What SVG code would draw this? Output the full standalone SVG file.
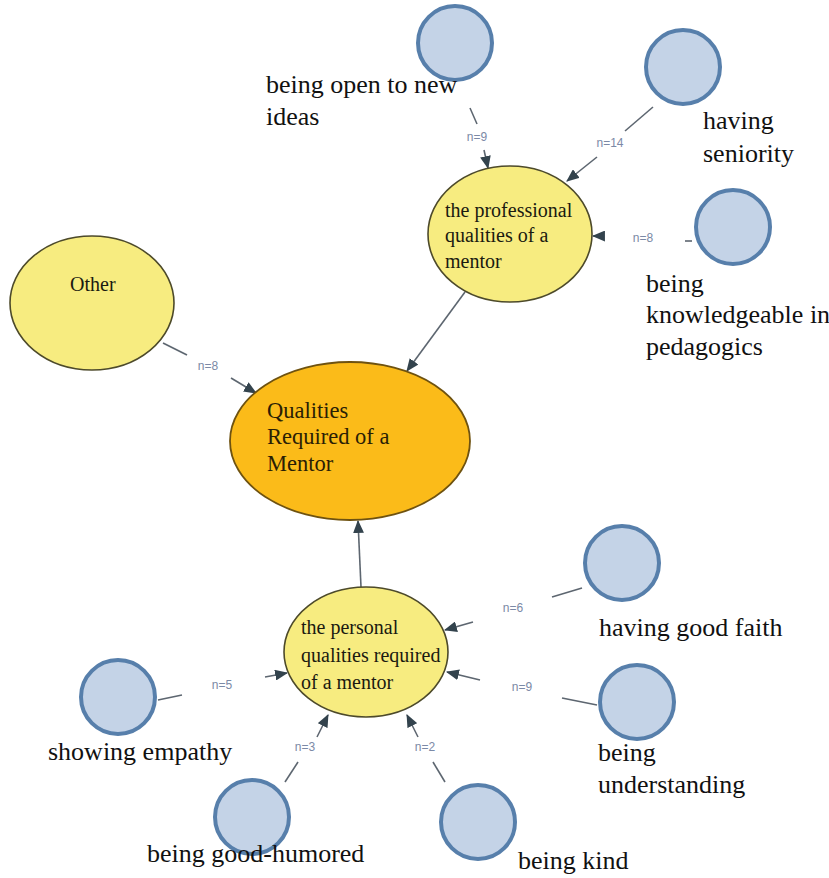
<svg xmlns="http://www.w3.org/2000/svg" width="829" height="878" viewBox="0 0 829 878">
<defs>
<marker id="ah" viewBox="0 0 12 10" refX="11" refY="5" markerWidth="13" markerHeight="11" markerUnits="userSpaceOnUse" orient="auto">
<path d="M0,0 L12,5 L0,10 Z" fill="#33434d"/>
</marker>
</defs>
<style>
.leaf{fill:#c4d3e7;stroke:#577fab;stroke-width:4}
.cat{fill:#f7ec80;stroke:#4d4a2a;stroke-width:1.6}
.core{fill:#fbbb19;stroke:#6e5210;stroke-width:1.8}
.t{font-size:26px;fill:#111}
.s{font-size:20px;fill:#1a1a10}
.c{font-size:22.5px;fill:#2a1e05}
.lb{font-size:12px;fill:#7b89a6;text-anchor:middle}
.ln{stroke:#5d6670;stroke-width:1.6;fill:none}
</style>
<rect width="829" height="878" fill="#ffffff"/>
<g id="connectors">
<line class="ln" x1="163" y1="343" x2="187" y2="355"/>
<line class="ln" x1="231" y1="378" x2="256" y2="393" marker-end="url(#ah)"/>
<line class="ln" x1="465" y1="292" x2="407" y2="371" marker-end="url(#ah)"/>
<line class="ln" x1="361" y1="587" x2="358" y2="521" marker-end="url(#ah)"/>
<line class="ln" x1="470" y1="108" x2="477" y2="124"/>
<line class="ln" x1="484" y1="150" x2="488" y2="168" marker-end="url(#ah)"/>
<line class="ln" x1="653" y1="107" x2="625" y2="131"/>
<line class="ln" x1="597" y1="157" x2="567" y2="181" marker-end="url(#ah)"/>
<line class="ln" x1="685" y1="241" x2="692" y2="241"/>
<line class="ln" x1="604" y1="236" x2="593" y2="236" marker-end="url(#ah)"/>
<line class="ln" x1="582" y1="588" x2="552" y2="597"/>
<line class="ln" x1="473" y1="622" x2="445" y2="630" marker-end="url(#ah)"/>
<line class="ln" x1="597" y1="705" x2="562" y2="698"/>
<line class="ln" x1="480" y1="680" x2="447" y2="672" marker-end="url(#ah)"/>
<line class="ln" x1="445" y1="782" x2="433" y2="762"/>
<line class="ln" x1="418" y1="737" x2="407" y2="715" marker-end="url(#ah)"/>
<line class="ln" x1="285" y1="782" x2="298" y2="762"/>
<line class="ln" x1="317" y1="737" x2="328" y2="715" marker-end="url(#ah)"/>
<line class="ln" x1="158" y1="700" x2="182" y2="695"/>
<line class="ln" x1="265" y1="677" x2="287" y2="673" marker-end="url(#ah)"/>
<g font-family="'Liberation Sans', Arial, sans-serif">
<text class="lb" x="208" y="370">n=8</text>
<text class="lb" x="477" y="141">n=9</text>
<text class="lb" x="610" y="147">n=14</text>
<text class="lb" x="643" y="242">n=8</text>
<text class="lb" x="513" y="612">n=6</text>
<text class="lb" x="522" y="691">n=9</text>
<text class="lb" x="425" y="751">n=2</text>
<text class="lb" x="305" y="751">n=3</text>
<text class="lb" x="222" y="689">n=5</text>
</g>
</g>
<g font-family="'Liberation Serif', 'Times New Roman', serif">
<g id="core">
<ellipse class="core" cx="350" cy="441" rx="120" ry="79"/>
<text class="c" x="267" y="418">Qualities</text>
<text class="c" x="267" y="444">Required of a</text>
<text class="c" x="267" y="471">Mentor</text>
</g>
<g id="other">
<ellipse class="cat" cx="92" cy="303" rx="82" ry="67"/>
<text class="s" x="70" y="291" font-size="21">Other</text>
</g>
<g id="professional">
<ellipse class="cat" cx="510" cy="234" rx="82" ry="68"/>
<text class="s" x="445" y="217">the professional</text>
<text class="s" x="445" y="242">qualities of a</text>
<text class="s" x="445" y="268">mentor</text>
</g>
<g id="personal">
<ellipse class="cat" cx="366" cy="652" rx="82" ry="65"/>
<text class="s" x="301" y="634" font-size="18.5">the personal</text>
<text class="s" x="301" y="662" font-size="18.5">qualities required</text>
<text class="s" x="301" y="689" font-size="18.5">of a mentor</text>
</g>
<g id="open-to-new-ideas">
<circle class="leaf" cx="455" cy="43" r="37"/>
<text class="t" x="266" y="93">being open to new</text>
<text class="t" x="266" y="125">ideas</text>
</g>
<g id="seniority">
<circle class="leaf" cx="683" cy="67" r="37"/>
<text class="t" x="703" y="129">having</text>
<text class="t" x="703" y="162">seniority</text>
</g>
<g id="knowledgeable">
<circle class="leaf" cx="733" cy="227" r="37"/>
<text class="t" x="646" y="292">being</text>
<text class="t" x="646" y="323">knowledgeable in</text>
<text class="t" x="646" y="355">pedagogics</text>
</g>
<g id="good-faith">
<circle class="leaf" cx="622" cy="563" r="37"/>
<text class="t" x="599" y="636">having good faith</text>
</g>
<g id="understanding">
<circle class="leaf" cx="637" cy="702" r="37"/>
<text class="t" x="598" y="761">being</text>
<text class="t" x="598" y="793">understanding</text>
</g>
<g id="kind">
<circle class="leaf" cx="478" cy="822" r="37"/>
<text class="t" x="518" y="869">being kind</text>
</g>
<g id="good-humored">
<circle class="leaf" cx="252" cy="817" r="37"/>
<text class="t" x="147" y="862">being good-humored</text>
</g>
<g id="empathy">
<circle class="leaf" cx="118" cy="697" r="37"/>
<text class="t" x="48" y="760">showing empathy</text>
</g>
</g>
</svg>
